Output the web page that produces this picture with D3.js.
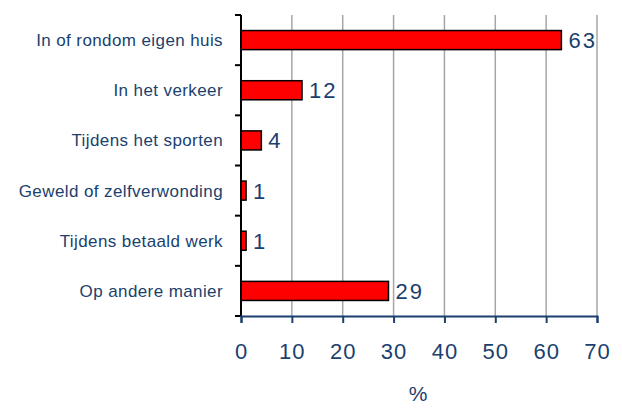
<!DOCTYPE html>
<html>
<head>
<meta charset="utf-8">
<script src="https://cdn.jsdelivr.net/npm/d3@7"></script>
<style>
  body { margin: 0; background: #fff; }
  text { font-family: "Liberation Sans", Arial, sans-serif; }
</style>
</head>
<body>
<div id="chart"></div>
<script>
// categories and percentages
const categories = [
  "In of rondom eigen huis",
  "In het verkeer",
  "Tijdens het sporten",
  "Geweld of zelfverwonding",
  "Tijdens betaald werk",
  "Op andere manier"
];
const values = [63, 12, 4, 1, 1, 29];
const xTicks = [0, 10, 20, 30, 40, 50, 60, 70];

const W = 622, H = 408;
const margin = { top: 15, right: 25, bottom: 92, left: 241 };
const width = W - margin.left - margin.right;
const height = H - margin.top - margin.bottom;
const navy = "#1b3f6e";

const svg = d3.select("#chart").append("svg")
  .attr("width", W).attr("height", H);
const g = svg.append("g").attr("transform", `translate(${margin.left},${margin.top})`);

const x = d3.scaleLinear().domain([0, 70]).range([0, width]);
const y = d3.scaleBand().domain(categories).range([0, height]).paddingInner(0.62).paddingOuter(0.31);

// vertical gridlines
g.selectAll(".grid").data(xTicks.slice(1)).enter().append("line")
  .attr("x1", d => x(d)).attr("x2", d => x(d))
  .attr("y1", 0).attr("y2", height)
  .attr("stroke", "#a6a6a6").attr("stroke-width", 1.5);

// bars
g.selectAll(".bar").data(values).enter().append("rect")
  .attr("x", 0)
  .attr("y", (d, i) => y(categories[i]))
  .attr("width", d => x(d))
  .attr("height", y.bandwidth())
  .attr("fill", "#ff0000")
  .attr("stroke", "#000").attr("stroke-width", 1.5);

// value labels
g.selectAll(".val").data(values).enter().append("text")
  .attr("x", d => x(d) + 7)
  .attr("y", (d, i) => y(categories[i]) + y.bandwidth() / 2)
  .attr("dy", "0.36em")
  .attr("fill", navy)
  .style("font-size", "22px")
  .style("letter-spacing", "2px")
  .text(d => d);

// left axis with ticks on category boundaries
g.append("line").attr("x1", 0).attr("x2", 0).attr("y1", 0).attr("y2", height)
  .attr("stroke", "#000").attr("stroke-width", 2);
const step = height / categories.length;
g.selectAll(".ytick").data(d3.range(categories.length + 1)).enter().append("line")
  .attr("x1", -6).attr("x2", 0)
  .attr("y1", d => d * step).attr("y2", d => d * step)
  .attr("stroke", "#000").attr("stroke-width", 2);

// category labels
g.selectAll(".cat").data(categories).enter().append("text")
  .attr("x", -18)
  .attr("y", d => y(d) + y.bandwidth() / 2)
  .attr("dy", "0.35em")
  .attr("text-anchor", "end")
  .attr("fill", navy)
  .style("font-size", "17px")
  .style("letter-spacing", "0.4px")
  .text(d => d);

// bottom axis
const xAxis = g.append("g").attr("transform", `translate(0,${height})`)
  .call(d3.axisBottom(x).tickValues(xTicks).tickSize(7).tickPadding(20));
xAxis.select(".domain").attr("stroke", navy).attr("stroke-width", 2);
xAxis.selectAll(".tick line").attr("stroke", navy).attr("stroke-width", 2);
xAxis.selectAll(".tick text")
  .attr("fill", navy)
  .style("font-size", "22px")
  .style("letter-spacing", "1px")
  .style("font-family", "'Liberation Sans', Arial, sans-serif");

// axis title
g.append("text")
  .attr("x", width / 2 - 1)
  .attr("y", height + 85)
  .attr("text-anchor", "middle")
  .attr("fill", navy)
  .style("font-size", "21px")
  .text("%");
</script>
</body>
</html>
